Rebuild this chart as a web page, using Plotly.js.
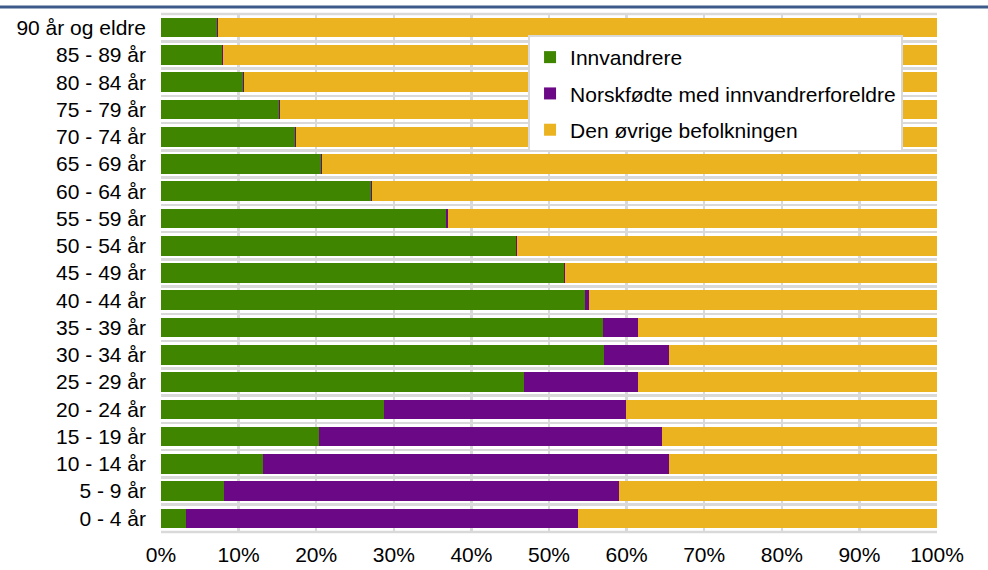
<!DOCTYPE html>
<html>
<head>
<meta charset="utf-8">
<script src="https://cdn.plot.ly/plotly-3.0.1.min.js"></script>
<style>html,body{margin:0;padding:0;background:#fff;}#chart{width:988px;height:570px;}</style>
</head>
<body>
<div id="chart"></div>
<script>
const categories = ["0 - 4 år","5 - 9 år","10 - 14 år","15 - 19 år","20 - 24 år","25 - 29 år","30 - 34 år","35 - 39 år","40 - 44 år","45 - 49 år","50 - 54 år","55 - 59 år","60 - 64 år","65 - 69 år","70 - 74 år","75 - 79 år","80 - 84 år","85 - 89 år","90 år og eldre"];
const innvandrere = [3.2, 8.1, 13.2, 20.4, 28.8, 46.8, 57.1, 57.0, 54.7, 51.9, 45.7, 36.7, 27.0, 20.6, 17.3, 15.2, 10.6, 7.9, 7.2];
const norskfodte = [50.6, 50.9, 52.2, 44.2, 31.1, 14.7, 8.3, 4.5, 0.5, 0.2, 0.2, 0.3, 0.2, 0.2, 0.1, 0.1, 0.1, 0.1, 0.1];
const ovrige = innvandrere.map((v, i) => +(100 - v - norskfodte[i]).toFixed(1));
const seriesNames = ["Innvandrere", "Norskfødte med innvandrerforeldre", "Den øvrige befolkningen"];
const xTickVals = [0,10,20,30,40,50,60,70,80,90,100];
const xTickText = ["0%","10%","20%","30%","40%","50%","60%","70%","80%","90%","100%"];

const colors = ["#408500", "#6a0886", "#ebb320"];
const seriesData = [innvandrere, norskfodte, ovrige];

const traces = seriesData.map((vals, k) => ({
  type: "bar",
  orientation: "h",
  name: seriesNames[k],
  y: categories,
  x: vals,
  marker: {color: colors[k], line: {width: 0}},
  hoverinfo: "x+y+name",
  legendgroup: "g" + k
}));

const layout = {
  width: 988,
  height: 570,
  margin: {l: 161, r: 51, t: 14, b: 38},
  paper_bgcolor: "#ffffff",
  plot_bgcolor: "#ffffff",
  barmode: "stack",
  bargap: 0.28,
  font: {family: "Liberation Sans, Arial, sans-serif", size: 21, color: "#000"},
  showlegend: true,
  legend: {
    x: 0.473, y: 0.9595, xanchor: "left", yanchor: "top",
    bgcolor: "#ffffff", bordercolor: "#d9d9d9", borderwidth: 2,
    font: {size: 21, color: "#000"},
    traceorder: "grouped",
    tracegroupgap: 6,
    itemwidth: 30
  },
  xaxis: {
    range: [0, 100],
    tickmode: "array",
    tickvals: xTickVals,
    ticktext: xTickText,
    showgrid: true,
    gridcolor: "#d9d9d9",
    gridwidth: 2.5,
    zeroline: false,
    showline: false,
    ticks: "",
    ticklabelstandoff: 8,
    fixedrange: true
  },
  yaxis: {
    type: "category",
    categoryorder: "array",
    categoryarray: categories,
    tickson: "boundaries",
    showgrid: true,
    gridcolor: "#d9d9d9",
    gridwidth: 2.5,
    ticks: "",
    ticklabelstandoff: 14,
    showline: false,
    zeroline: false,
    fixedrange: true
  },
  shapes: [
    {type: "line", xref: "paper", yref: "paper", x0: -0.3, x1: 1.2, y0: 1.0135, y1: 1.0135, line: {color: "#3e5a8a", width: 3}},
    {type: "line", xref: "paper", yref: "paper", x0: 0, x1: 1, y0: 0, y1: 0, line: {color: "#d9d9d9", width: 2.5}, layer: "below"},
    {type: "line", xref: "paper", yref: "paper", x0: 0, x1: 1, y0: 1, y1: 1, line: {color: "#d9d9d9", width: 2.5}, layer: "below"}
  ]
};

Plotly.newPlot("chart", traces, layout, {displayModeBar: false, staticPlot: true});
</script>
</body>
</html>
